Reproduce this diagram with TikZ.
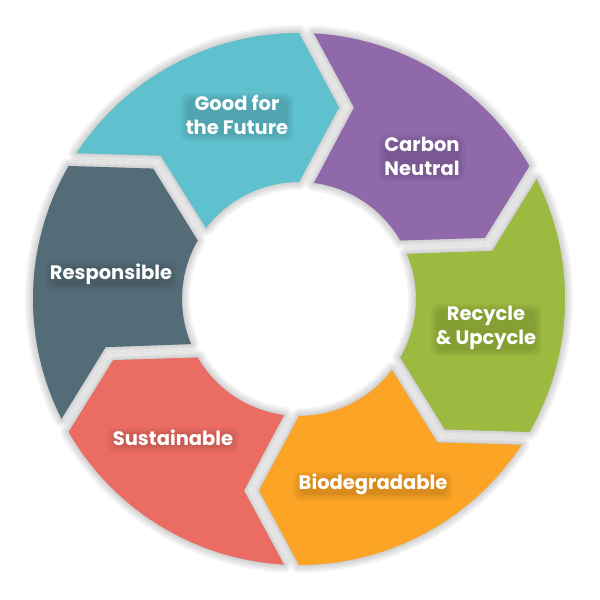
\documentclass[tikz,border=0pt]{standalone}
\usepackage{fontspec}
\setmainfont{Poppins}
\usetikzlibrary{calc}
\pgfdeclarelayer{back}
\pgfdeclarelayer{glow}
\pgfsetlayers{back,glow,main}
\definecolor{cteal}{HTML}{5FC1CE}
\definecolor{cpurple}{HTML}{8F69AA}
\definecolor{cgreen}{HTML}{9DBA40}
\definecolor{corange}{HTML}{FCA425}
\definecolor{ccoral}{HTML}{EA6C63}
\definecolor{cslate}{HTML}{546C78}
\tikzset{
  segshadow/.style={fill=black, draw=black, line join=round, opacity=0.045},
  lbl/.style={text=white, align=center, font=\bfseries\fontsize{19.5}{24}\selectfont, inner sep=0pt},
  glowbox/.style={fill=black, opacity=0.035, rounded corners=7pt}
}
\newcommand\seg[1]{%
  ($(c)+({90-#1-3.23}:266pt)$) arc[start angle={90-#1-3.23}, end angle={90-#1-60}, radius=266pt]
  -- ($(c)+({90-#1-60}:191.5pt)+({-#1-60}:40pt)$)
  -- ($(c)+({90-#1-60}:117pt)$)
  arc[start angle={90-#1-60}, end angle={90-#1-7.35}, radius=117pt]
  -- ($(c)+({90-#1}:191.5pt)+({-#1}:55pt)$) -- cycle}
\newcommand\glowlabel[3]{%
  \node[lbl] (#1) at (#2) {#3};
  \begin{pgfonlayer}{glow}
  \foreach \i in {-5,-3,-1,1}{
    \fill[glowbox] ($(#1.south west)+(\i pt,\i pt-1pt)$) rectangle ($(#1.north east)+(-\i pt,-\i pt-3pt)$);
  }
  \end{pgfonlayer}
}
\begin{document}
\begin{tikzpicture}[x=1pt,y=1pt]
\useasboundingbox (0,0) rectangle (600,600);
\coordinate (c) at (299,301);
\begin{pgfonlayer}{back}
\fill[white] (0,0) rectangle (600,600);
% shadows
\foreach \a in {300,0,60,120,180,240}{
  \begin{scope}[shift={(1pt,-3pt)}]
  \foreach \w in {16,12,8,4}{
    \path[segshadow, line width=\w pt] \seg{\a};
  }
  \end{scope}
}
% segments
\foreach \a/\col in {300/cteal, 0/cpurple, 60/cgreen, 120/corange, 180/ccoral, 240/cslate}{
  \fill[\col] \seg{\a};
}
\end{pgfonlayer}
% labels
\coordinate (pgood) at (237,485);
\coordinate (pcarb) at (422,444);
\coordinate (prec) at (486,272);
\coordinate (pbio) at (373,116);
\coordinate (psus) at (173,162);
\coordinate (pres) at (111,326);
\glowlabel{good}{pgood}{Good for\\the Future}
\glowlabel{carb}{pcarb}{Carbon\\Neutral}
\glowlabel{rec}{prec}{Recycle\\\& Upcycle}
\glowlabel{bio}{pbio}{Biodegradable}
\glowlabel{sus}{psus}{Sustainable}
\glowlabel{res}{pres}{Responsible}
\end{tikzpicture}
\end{document}
